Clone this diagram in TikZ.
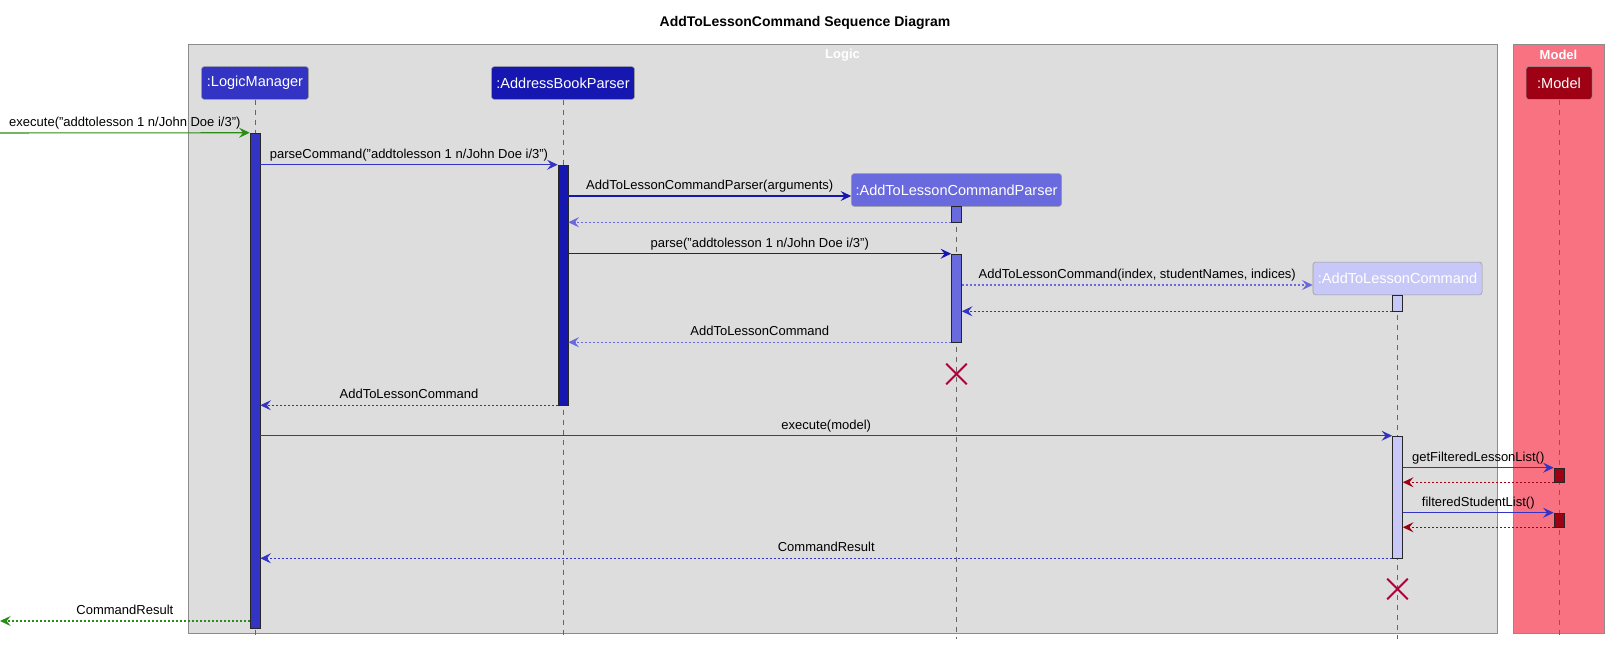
\documentclass[tikz,border=0pt]{standalone}
\usepackage{fontspec}
\setmainfont{Liberation Sans}
\usetikzlibrary{arrows.meta,shapes.misc}

\definecolor{logicbg}{HTML}{DDDDDD}
\definecolor{modelbg}{HTML}{F97282}
\definecolor{lmblue}{HTML}{3333C4}
\definecolor{abpblue}{HTML}{1616B0}
\definecolor{parserblue}{HTML}{6A6ADF}
\definecolor{cmdblue}{HTML}{C8C8F8}
\definecolor{modelred}{HTML}{9E0014}
\definecolor{callgreen}{HTML}{2A8C16}
\definecolor{crimsonx}{HTML}{B0003C}

\begin{document}
\begin{tikzpicture}[x=0.75pt,y=-0.75pt,>={Stealth[length=8pt,width=7.5pt,inset=3pt]}]
      \tikzstyle{box}=[draw=black!40,rounded corners=2pt,minimum height=24.5pt,inner xsep=2pt,text=white,font=\fontsize{10.9}{12}\selectfont]
      \tikzstyle{bar}=[draw=black!85,minimum width=7.5pt,inner sep=0pt]
      \tikzstyle{life}=[draw=black!60,line width=0.7pt,dash pattern=on 3.75pt off 3.75pt]
      \tikzstyle{call}=[->,line width=0.8pt]
      \tikzstyle{ret}=[->,line width=0.8pt,dash pattern=on 1.5pt off 1.5pt]
      \tikzstyle{lbl}=[midway,anchor=base,yshift=4.8pt,inner sep=0pt,text=black,font=\fontsize{9.75}{11}\selectfont]
      \tikzstyle{grouplbl}=[text=white,font=\fontsize{9.75}{11}\selectfont\bfseries]
      \tikzstyle{gone}=[cross out,draw=crimsonx,line width=1.4pt,minimum size=14pt,inner sep=0pt]

      \useasboundingbox (0,0) rectangle (1610,645);

      % title and groups
      \node[font=\fontsize{10.5}{12}\selectfont\bfseries] (title) at (805,23) {AddToLessonCommand Sequence Diagram};
      \draw[draw=black!45,fill=logicbg,line width=0.75pt] (188,45) rectangle (1497,633);
      \draw[draw=black!45,fill=modelbg,line width=0.75pt] (1513,45) rectangle (1604,633);
      \node[grouplbl] (logiclbl) at (842.5,55) {Logic};
      \node[grouplbl] (modellbl) at (1558.5,55) {Model};

      % participants
      \node[box,fill=lmblue,minimum width=80.25pt](lm) at (255,83){:LogicManager};
      \node[box,fill=abpblue,minimum width=107.25pt](abp) at (563,83){:AddressBookParser};
      \node[box,fill=parserblue,minimum width=157.5pt](atlcp) at (956.5,190){:AddToLessonCommandParser};
      \node[box,fill=cmdblue,minimum width=126.75pt](atlc) at (1397.5,278.5){:AddToLessonCommand};
      \node[box,fill=modelred,minimum width=49.5pt](model) at (1559,83){:Model};

      \coordinate (lmend) at (255,639);
      \coordinate (abpend) at (563,639);
      \coordinate (atlcpend) at (956.5,639);
      \coordinate (atlcend) at (1397.5,639);
      \coordinate (modelend) at (1559,639);

      \draw[life] (lm.south) -- (lmend);
      \draw[life] (abp.south) -- (abpend);
      \draw[life] (atlcp.south) -- (atlcpend);
      \draw[life] (atlc.south) -- (atlcend);
      \draw[life] (model.south) -- (modelend);

      % activations
      \node[bar,fill=lmblue,minimum height=371.25pt](lmbar) at (255,380.5){};
      \node[bar,fill=abpblue,minimum height=180pt](abpbar) at (563,285){};
      \node[bar,fill=parserblue,minimum height=12pt](parserbar1) at (956.5,214){};
      \node[bar,fill=parserblue,minimum height=66pt](parserbar2) at (956.5,298){};
      \node[bar,fill=cmdblue,minimum height=12pt](cmdbar1) at (1397.5,303){};
      \node[bar,fill=cmdblue,minimum height=91.5pt](cmdbar2) at (1397.5,497){};
      \node[bar,fill=modelred,minimum height=10.5pt](modelbar1) at (1559,475){};
      \node[bar,fill=modelred,minimum height=10.5pt](modelbar2) at (1559,520){};

      \node[gone](x1) at (956.5,374){};
      \node[gone](x2) at (1397.5,589){};

      \coordinate (userin) at (0,133);
      \coordinate (userout) at (0,621);

      % messages
      \draw[call,callgreen] (userin) -- (lmbar.north west) node[lbl]{execute("addtolesson 1 n/John Doe i/3")};
      \draw[call,lmblue] (lmbar.east |- abpbar.north) -- (abpbar.north west) node[lbl]{parseCommand("addtolesson 1 n/John Doe i/3")};
      \draw[call,abpblue] (abpbar.east |- 0,196) -- (atlcp.west |- 0,196) node[lbl]{AddToLessonCommandParser(arguments)};
      \draw[ret,parserblue] (parserbar1.south west) -- (abpbar.east |- parserbar1.south);
      \draw[call,abpblue] (abpbar.east |- parserbar2.north) -- (parserbar2.north west) node[lbl]{parse("addtolesson 1 n/John Doe i/3")};
      \draw[ret,parserblue] (parserbar2.east |- 0,285) -- (atlc.west |- 0,285) node[lbl]{AddToLessonCommand(index, studentNames, indices)};
      \draw[ret,lmblue] (cmdbar1.south west) -- (parserbar2.east |- cmdbar1.south);
      \draw[ret,parserblue] (parserbar2.south west) -- (abpbar.east |- parserbar2.south) node[lbl]{AddToLessonCommand};
      \draw[ret,lmblue] (abpbar.south west) -- (lmbar.east |- abpbar.south) node[lbl]{AddToLessonCommand};
      \draw[call,lmblue] (lmbar.east |- cmdbar2.north) -- (cmdbar2.north west) node[lbl]{execute(model)};
      \draw[call,lmblue] (cmdbar2.east |- modelbar1.north) -- (modelbar1.north west) node[lbl]{getFilteredLessonList()};
      \draw[ret,modelred] (modelbar1.south west) -- (cmdbar2.east |- modelbar1.south);
      \draw[call,lmblue] (cmdbar2.east |- modelbar2.north) -- (modelbar2.north west) node[lbl]{filteredStudentList()};
      \draw[ret,modelred] (modelbar2.south west) -- (cmdbar2.east |- modelbar2.south);
      \draw[ret,lmblue] (cmdbar2.south west) -- (lmbar.east |- cmdbar2.south) node[lbl]{CommandResult};
      \draw[ret,callgreen] (lmbar.west |- userout) -- (userout) node[lbl]{CommandResult};
\end{tikzpicture}
\end{document}
